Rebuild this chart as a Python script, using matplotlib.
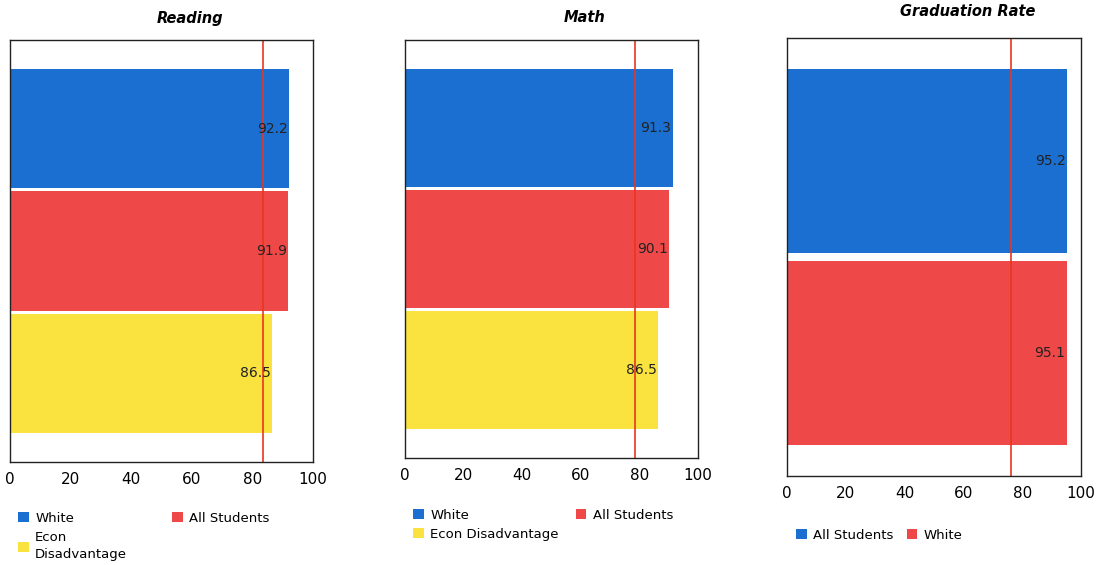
import matplotlib.pyplot as plt
from matplotlib.patches import Patch

# data
reading_groups = ['White', 'All Students', 'Econ Disadvantage']
reading_values = [92.2, 91.9, 86.5]
reading_target = 83.5

math_groups = ['White', 'All Students', 'Econ Disadvantage']
math_values = [91.3, 90.1, 86.5]
math_target = 78.5

grad_groups = ['All Students', 'White']
grad_values = [95.2, 95.1]
grad_target = 76.2

blue, red, yellow = '#1b6fd0', '#ef4848', '#fae33e'
line_color = '#e8361f'

W, H = 1101, 565
fig = plt.figure(figsize=(W / 100, H / 100), dpi=100)
plt.rcParams['font.family'] = ['DejaVu Sans']


def px_axes(left, top, right, bottom):
    return fig.add_axes([left / W, 1 - bottom / H, (right - left) / W, (bottom - top) / H])


def panel(ax, title, groups, values, target, cols, bar_h, pad, title_xy):
    pos = list(range(len(groups)))
    ax.barh(pos, values, height=bar_h, color=cols)
    ax.set_xlim(0, 100)
    ax.set_ylim(len(groups) - 1 + bar_h / 2 + pad, -bar_h / 2 - pad)
    ax.axvline(target, color=line_color, lw=1.2)
    for p, v in zip(pos, values):
        ax.annotate(f'{v}', (v, p), xytext=(-1, 0), textcoords='offset points',
                    ha='right', va='center', fontsize=10, color='#222222')
    ax.set_xticks([0, 20, 40, 60, 80, 100])
    ax.set_yticks([])
    ax.tick_params(axis='x', length=0, pad=7, labelsize=11)
    for s in ax.spines.values():
        s.set_linewidth(1.0)
        s.set_color('#222222')
    fig.text(title_xy[0] / W, 1 - title_xy[1] / H, title, ha='center', va='center',
             fontsize=10.5, fontweight='bold', fontstyle='italic')


ax1 = px_axes(10, 40, 313, 462)
panel(ax1, 'Reading', reading_groups, reading_values, reading_target,
      [blue, red, yellow], 0.975, 0.24, (190, 18))
ax2 = px_axes(405, 40, 698, 458)
panel(ax2, 'Math', math_groups, math_values, math_target,
      [blue, red, yellow], 0.975, 0.24, (585, 18))
ax3 = px_axes(787, 38, 1081, 476)
panel(ax3, 'Graduation Rate', grad_groups, grad_values, grad_target,
      [blue, red], 0.96, 0.16, (968, 12))


def square(c):
    return Patch(facecolor=c, edgecolor='none')


leg_kw = dict(frameon=False, fontsize=9.5, handlelength=0.8, handleheight=0.8,
              handletextpad=0.5, labelspacing=0.45, borderaxespad=0, borderpad=0)

leg1 = fig.legend([square(blue), square(yellow), square(red)],
                  ['White', 'Econ\nDisadvantage', 'All Students'], ncol=2,
                  loc='upper left', bbox_to_anchor=(18 / W, 1 - 512 / H), columnspacing=3.4, **leg_kw)
for t in leg1.get_texts():
    t.set_linespacing(1.45)
fig.legend([square(blue), square(yellow), square(red)],
           ['White', 'Econ Disadvantage', 'All Students'], ncol=2,
           loc='upper left', bbox_to_anchor=(413 / W, 1 - 509 / H), columnspacing=1.3, **leg_kw)
fig.legend([square(blue), square(red)],
           ['All Students', 'White'], ncol=2,
           loc='upper left', bbox_to_anchor=(796 / W, 1 - 529 / H), columnspacing=1.0, **leg_kw)

fig.savefig('out.png', dpi=100, facecolor='white')
